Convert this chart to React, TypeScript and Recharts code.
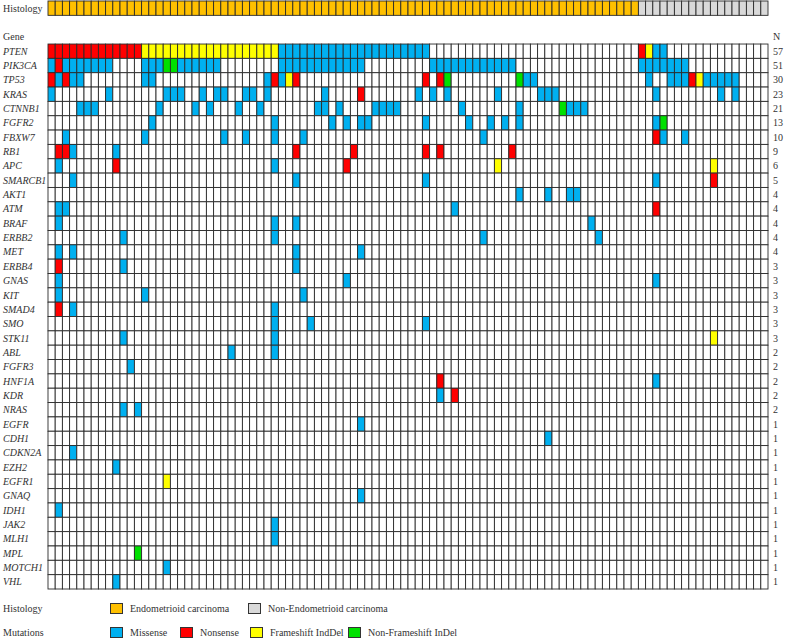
import React from "react";
import { ScatterChart, Scatter, XAxis, YAxis } from "recharts";

// mutation codes: M = missense, N = nonsense, F = frameshift indel, I = non-frameshift indel
type Run = [number, number, string];

const GENES = [
  "PTEN", "PIK3CA", "TP53", "KRAS", "CTNNB1", "FGFR2", "FBXW7", "RB1", "APC", "SMARCB1",
  "AKT1", "ATM", "BRAF", "ERBB2", "MET", "ERBB4", "GNAS", "KIT", "SMAD4", "SMO",
  "STK11", "ABL", "FGFR3", "HNF1A", "KDR", "NRAS", "EGFR", "CDH1", "CDKN2A", "EZH2",
  "EGFR1", "GNAQ", "IDH1", "JAK2", "MLH1", "MPL", "MOTCH1", "VHL",
];

const COUNTS = [
  57, 51, 30, 23, 21, 13, 10, 9, 6, 5, 4, 4, 4, 4, 4, 3, 3, 3, 3, 3,
  3, 2, 2, 2, 2, 2, 1, 1, 1, 1, 1, 1, 1, 1, 1, 1, 1, 1,
];

// 100 samples: 82 endometrioid, 18 non-endometrioid
const HISTOLOGY: Run[] = [[0, 81, "E"], [82, 99, "X"]];

// per gene: runs of [first sample, last sample, code]
const MUTATIONS: Run[][] = [
  [[0, 12, "N"], [13, 31, "F"], [32, 52, "M"], [82, 82, "N"], [83, 83, "F"], [84, 85, "M"]],
  [[0, 0, "M"], [1, 1, "N"], [2, 8, "M"], [13, 15, "M"], [16, 17, "I"], [18, 23, "M"], [32, 43, "M"], [53, 64, "M"], [82, 88, "M"]],
  [[0, 0, "N"], [1, 1, "M"], [2, 2, "N"], [3, 4, "M"], [13, 14, "M"], [30, 30, "M"], [31, 31, "N"], [32, 32, "M"], [33, 33, "F"], [34, 34, "N"],
   [52, 52, "N"], [54, 54, "N"], [55, 55, "I"], [65, 65, "I"], [66, 67, "M"], [83, 83, "M"], [86, 88, "M"], [89, 89, "N"], [90, 90, "F"], [91, 95, "M"]],
  [[0, 0, "M"], [8, 8, "M"], [16, 18, "M"], [21, 21, "M"], [23, 24, "M"], [27, 28, "M"], [30, 30, "M"], [38, 38, "M"], [43, 43, "N"],
   [51, 51, "M"], [53, 53, "M"], [55, 55, "M"], [62, 62, "M"], [68, 70, "M"], [84, 84, "M"], [93, 93, "M"], [95, 95, "M"]],
  [[4, 6, "M"], [15, 15, "M"], [20, 20, "M"], [22, 22, "M"], [26, 26, "M"], [29, 29, "M"], [37, 38, "M"], [40, 40, "M"], [45, 48, "M"],
   [57, 57, "M"], [65, 65, "M"], [71, 71, "I"], [72, 74, "M"]],
  [[14, 14, "M"], [31, 31, "M"], [39, 39, "M"], [41, 41, "M"], [43, 44, "M"], [52, 52, "M"], [58, 58, "M"], [61, 61, "M"], [63, 63, "M"],
   [65, 65, "M"], [84, 84, "M"], [85, 85, "I"]],
  [[2, 2, "M"], [13, 13, "M"], [24, 24, "M"], [27, 27, "M"], [31, 31, "M"], [35, 35, "M"], [60, 60, "M"], [84, 84, "N"], [85, 85, "M"], [88, 88, "M"]],
  [[1, 2, "N"], [3, 3, "M"], [9, 9, "M"], [34, 34, "N"], [42, 42, "N"], [52, 52, "N"], [54, 54, "N"], [64, 64, "N"]],
  [[1, 1, "M"], [9, 9, "N"], [31, 31, "M"], [41, 41, "N"], [62, 62, "F"], [92, 92, "F"]],
  [[3, 3, "M"], [34, 34, "M"], [52, 52, "M"], [84, 84, "M"], [92, 92, "N"]],
  [[65, 65, "M"], [69, 69, "M"], [72, 73, "M"]],
  [[1, 2, "M"], [56, 56, "M"], [84, 84, "N"]],
  [[1, 1, "M"], [31, 31, "M"], [34, 34, "M"], [75, 75, "M"]],
  [[10, 10, "M"], [31, 31, "M"], [60, 60, "M"], [76, 76, "M"]],
  [[1, 1, "M"], [3, 3, "M"], [34, 34, "M"], [43, 43, "M"]],
  [[1, 1, "N"], [10, 10, "M"], [34, 34, "M"]],
  [[1, 1, "M"], [41, 41, "M"], [84, 84, "M"]],
  [[1, 1, "M"], [13, 13, "M"], [35, 35, "M"]],
  [[1, 1, "N"], [3, 3, "M"], [31, 31, "M"]],
  [[31, 31, "M"], [36, 36, "M"], [52, 52, "M"]],
  [[10, 10, "M"], [31, 31, "M"], [92, 92, "F"]],
  [[25, 25, "M"], [31, 31, "M"]],
  [[11, 11, "M"]],
  [[54, 54, "N"], [84, 84, "M"]],
  [[54, 54, "M"], [56, 56, "N"]],
  [[10, 10, "M"], [12, 12, "M"]],
  [[43, 43, "M"]],
  [[69, 69, "M"]],
  [[3, 3, "M"]],
  [[9, 9, "M"]],
  [[16, 16, "F"]],
  [[43, 43, "M"]],
  [[1, 1, "M"]],
  [[31, 31, "M"]],
  [[31, 31, "M"]],
  [[12, 12, "I"]],
  [[16, 16, "M"]],
  [[9, 9, "M"]],
];

const COLORS: Record<string, string> = {
  E: "#FFC000",
  X: "#D9D9D9",
  M: "#00B0F0",
  N: "#FF0000",
  F: "#FFFF00",
  I: "#00E000",
  "": "#FFFFFF",
};

const N_SAMPLES = 100;
const W = 786;
const H = 641;
const MARGIN = { top: 1, right: 18, bottom: 52, left: 0 };
const AXIS_W = 48;
const ROW_MIN = -3; // histology row sits 3 rows above the gene block
const ROW_MAX = GENES.length;
const CELL_W = (W - MARGIN.right - AXIS_W) / N_SAMPLES;
const CELL_H = (H - MARGIN.top - MARGIN.bottom) / (ROW_MAX - ROW_MIN);
const FONT = "'Liberation Serif', 'Times New Roman', serif";

type Cell = { x: number; y: number; code: string };

function buildCells(): Cell[] {
  const cells: Cell[] = [];
  HISTOLOGY.forEach(([a, b, code]) => {
    for (let i = a; i <= b; i++) cells.push({ x: i + 0.5, y: ROW_MIN + 0.5, code });
  });
  GENES.forEach((_, r) => {
    const row: string[] = new Array(N_SAMPLES).fill("");
    MUTATIONS[r].forEach(([a, b, code]) => {
      for (let i = a; i <= b; i++) row[i] = code;
    });
    row.forEach((code, i) => cells.push({ x: i + 0.5, y: r + 0.5, code }));
  });
  return cells;
}

const CellShape = (props: any) => {
  const { cx, cy, payload } = props;
  return (
    <rect
      x={cx - CELL_W / 2}
      y={cy - CELL_H / 2}
      width={CELL_W}
      height={CELL_H}
      fill={COLORS[payload.code]}
      stroke="#2a2a2a"
      strokeWidth={0.9}
    />
  );
};

const RowTick = (props: any) => {
  const { y, payload } = props;
  const r = payload.value - 0.5;
  const style = { fontFamily: FONT, fontSize: 10, fill: "#333" };
  if (r === ROW_MIN) {
    return (
      <text x={3} y={y} dy="0.35em" style={style}>Histology</text>
    );
  }
  if (r === -1) {
    return (
      <g>
        <text x={3} y={y} dy="0.35em" style={style}>Gene</text>
        <text x={773} y={y} dy="0.35em" style={style}>N</text>
      </g>
    );
  }
  return (
    <g>
      <text x={3} y={y} dy="0.35em" style={{ ...style, fontStyle: "italic" }}>{GENES[r]}</text>
      <text x={773} y={y} dy="0.35em" style={style}>{COUNTS[r]}</text>
    </g>
  );
};

const Swatch = ({ color, label, left }: { color: string; label: string; left: number }) => (
  <div style={{ position: "absolute", left, top: 0, display: "flex", alignItems: "center" }}>
    <span style={{ width: 13, height: 11, background: color, border: "1px solid #333", boxSizing: "border-box", marginRight: 7 }} />
    <span>{label}</span>
  </div>
);

export default function App() {
  const cells = buildCells();
  const ticks = [ROW_MIN + 0.5, -0.5, ...GENES.map((_, r) => r + 0.5)];

  return (
    <div style={{ position: "absolute", left: 0, top: 0, width: W, height: H, background: "#fff" }}>
      <ScatterChart width={W} height={H} margin={MARGIN}>
        <XAxis type="number" dataKey="x" domain={[0, N_SAMPLES]} hide />
        <YAxis
          type="number"
          dataKey="y"
          domain={[ROW_MIN, ROW_MAX]}
          reversed
          width={AXIS_W}
          ticks={ticks}
          interval={0}
          axisLine={false}
          tickLine={false}
          tick={<RowTick />}
        />
        <Scatter data={cells} shape={<CellShape />} isAnimationActive={false} />
      </ScatterChart>
      <div style={{ position: "absolute", left: 0, top: 603, width: W, fontFamily: FONT, fontSize: 10, color: "#333" }}>
        <div style={{ position: "relative", height: 14 }}>
          <span style={{ position: "absolute", left: 3, top: 0 }}>Histology</span>
          <Swatch color={COLORS.E} label="Endometrioid carcinoma" left={110} />
          <Swatch color={COLORS.X} label="Non-Endometrioid carcinoma" left={248} />
        </div>
        <div style={{ position: "relative", height: 14, marginTop: 10 }}>
          <span style={{ position: "absolute", left: 3, top: 0 }}>Mutations</span>
          <Swatch color={COLORS.M} label="Missense" left={110} />
          <Swatch color={COLORS.N} label="Nonsense" left={180} />
          <Swatch color={COLORS.F} label="Frameshift IndDel" left={250} />
          <Swatch color={COLORS.I} label="Non-Frameshift InDel" left={348} />
        </div>
      </div>
    </div>
  );
}
